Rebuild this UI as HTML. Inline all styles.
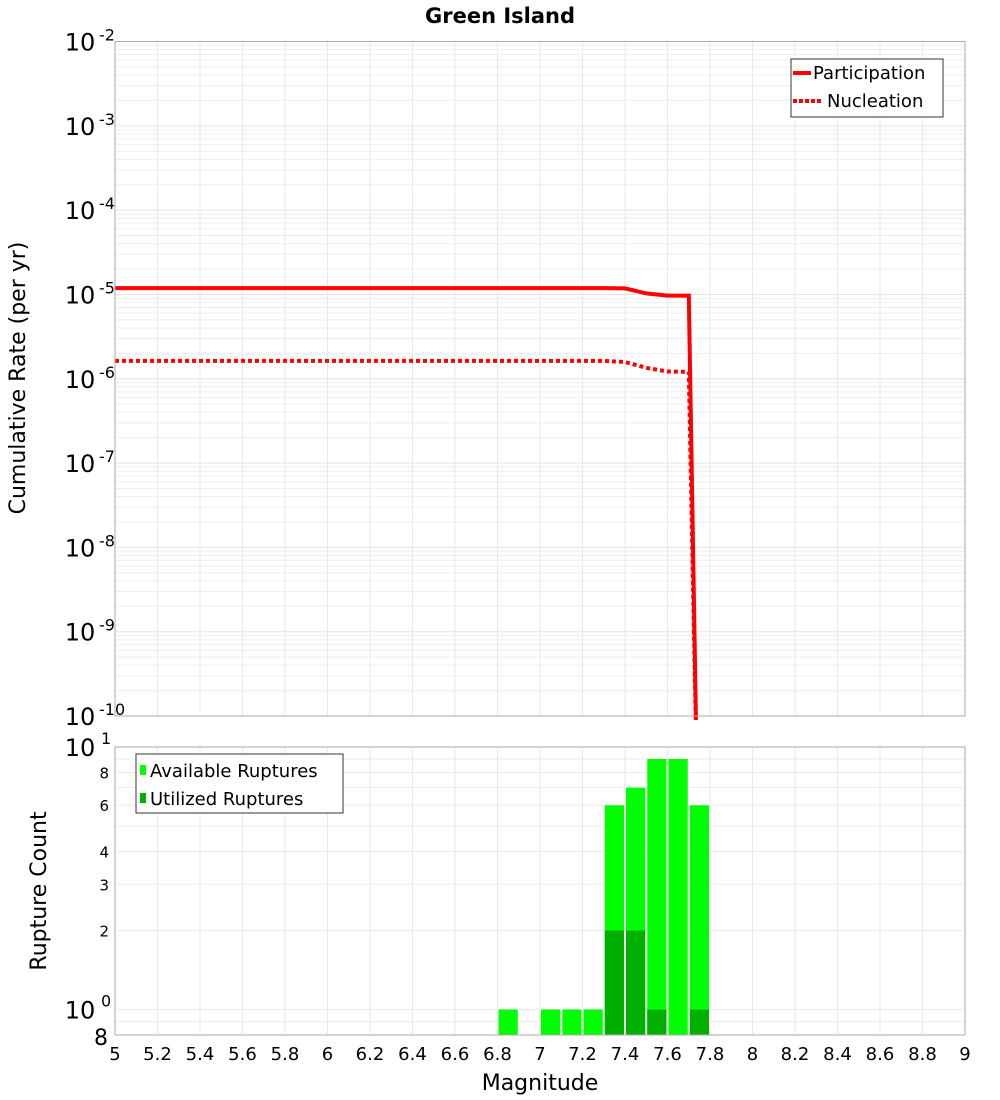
<!DOCTYPE html>
<html><head><meta charset="utf-8"><style>
body{margin:0;background:#fff;}
svg{display:block;font-family:"DejaVu Sans","Liberation Sans",sans-serif;}
</style></head><body>
<svg id="chart" width="1000" height="1100" viewBox="0 0 1000 1100" xmlns="http://www.w3.org/2000/svg">
<text x="500" y="23" text-anchor="middle" font-size="21" font-weight="bold">Green Island</text>
<g id="topPlot"></g>
<g id="botPlot"></g>
<text transform="translate(25,378) rotate(-90)" text-anchor="middle" font-size="22">Cumulative Rate (per yr)</text>
<text transform="translate(46,891) rotate(-90)" text-anchor="middle" font-size="22">Rupture Count</text>
<text x="540" y="1090" text-anchor="middle" font-size="22">Magnitude</text>
</svg>
<script>
// ---- data ----
const partMags  = [5.0,5.1,5.2,5.3,5.4,5.5,5.6,5.7,5.8,5.9,6.0,6.1,6.2,6.3,6.4,6.5,6.6,6.7,6.8,6.9,7.0,7.1,7.2,7.3,7.4,7.5,7.6,7.7,7.74];
const partRates = [1.19e-5,1.19e-5,1.19e-5,1.19e-5,1.19e-5,1.19e-5,1.19e-5,1.19e-5,1.19e-5,1.19e-5,1.19e-5,1.19e-5,1.19e-5,1.19e-5,1.19e-5,1.19e-5,1.19e-5,1.19e-5,1.19e-5,1.19e-5,1.19e-5,1.19e-5,1.19e-5,1.19e-5,1.18e-5,1.03e-5,9.7e-6,9.7e-6,1e-11];
const nuclRates = [1.63e-6,1.63e-6,1.63e-6,1.63e-6,1.63e-6,1.63e-6,1.63e-6,1.63e-6,1.63e-6,1.63e-6,1.63e-6,1.63e-6,1.63e-6,1.63e-6,1.63e-6,1.63e-6,1.63e-6,1.63e-6,1.63e-6,1.63e-6,1.63e-6,1.63e-6,1.63e-6,1.63e-6,1.58e-6,1.35e-6,1.22e-6,1.21e-6,1e-11];
const binCenters = [6.85,7.05,7.15,7.25,7.35,7.45,7.55,7.65,7.75];
const availCounts = [1,1,1,1,6,7,9,9,6];
const usedCounts  = [0,0,0,0,2,2,1,0,1];
const xTicks = [5,5.2,5.4,5.6,5.8,6,6.2,6.4,6.6,6.8,7,7.2,7.4,7.6,7.8,8,8.2,8.4,8.6,8.8,9];
const topExps = [-2,-3,-4,-5,-6,-7,-8,-9,-10];
const botMinorLabels = [2,3,4,6,8];

const NS="http://www.w3.org/2000/svg";
function mk(p,tag,attrs){const e=document.createElementNS(NS,tag);for(const k in attrs)e.setAttribute(k,attrs[k]);p.appendChild(e);return e;}
const X0=115,X1=965;
const xs=m=>X0+(m-5)/(9-5)*(X1-X0);
const T0=41.5,T1=716;
const ty=v=>T0+(-2-Math.log10(v))/8*(T1-T0);
const B0=747,B1=1035;
const by=v=>B0+(1-Math.log10(v))/(1-Math.log10(0.8))*(B1-B0);

const topG=document.getElementById('topPlot'), botG=document.getElementById('botPlot');
// top plot grid
const tg=mk(topG,'g',{});


for(let e=-10;e<-2;e++)for(let k=1;k<10;k++){const y=ty(k*Math.pow(10,e));mk(tg,'line',{x1:X0,x2:X1,y1:y,y2:y,stroke:k==1?'#e4e4e4':'#eeeeee','stroke-width':1});}
xTicks.forEach(t=>{const x=xs(t);mk(tg,'line',{x1:x,x2:x,y1:T0,y2:T1,stroke:'#e8e8e8','stroke-width':1});});
// bottom grid
const bg=mk(botG,'g',{});


[0.8,0.9,1,2,3,4,5,6,7,8,9].forEach(v=>{const y=by(v);mk(bg,'line',{x1:X0,x2:X1,y1:y,y2:y,stroke:'#ebebeb','stroke-width':1});});
xTicks.forEach(t=>{const x=xs(t);mk(bg,'line',{x1:x,x2:x,y1:B0,y2:B1,stroke:'#e8e8e8','stroke-width':1});});

// top curves (clipped)
const cp=mk(topG,'clipPath',{id:'tc'});
mk(cp,'rect',{x:X0,y:T0,width:X1-X0,height:T1-T0+4});
const pp=partMags.map((m,i)=>xs(m).toFixed(1)+','+ty(partRates[i]).toFixed(1)).join(' ');
const np=partMags.map((m,i)=>xs(m).toFixed(1)+','+ty(nuclRates[i]).toFixed(1)).join(' ');
const nl=mk(topG,'polyline',{points:np,fill:'none',stroke:'#ff0000','stroke-width':4,'stroke-dasharray':'4,3','clip-path':'url(#tc)'});


const pl=mk(topG,'polyline',{points:pp,fill:'none',stroke:'#ff0000','stroke-width':4,'clip-path':'url(#tc)'});


const tf=mk(topG,'rect',{x:X0,y:T0,width:X1-X0,height:T1-T0,fill:'none',stroke:'#aaaaaa','stroke-width':1});



// top y labels
topExps.forEach(e=>{const y=ty(Math.pow(10,e));
 const t=mk(topG,'text',{x:80,y:y+9,'text-anchor':'middle','font-size':24});
 
 
 t.textContent='10';
 const s=mk(topG,'text',{x:99,y:y-1,'font-size':16});
 
 
 s.textContent=String(e);
});

// top legend
const lg=mk(topG,'g',{});


mk(lg,'rect',{x:791,y:59,width:152,height:58,fill:'#fff',stroke:'#333','stroke-width':1});
mk(lg,'line',{x1:793,x2:811,y1:73,y2:73,stroke:'#f00','stroke-width':4});
mk(lg,'line',{x1:793,x2:823,y1:101,y2:101,stroke:'#f00','stroke-width':4,'stroke-dasharray':'4,2'});
const l1=mk(lg,'text',{x:813,y:79,'font-size':18});l1.textContent='Participation';


const l2=mk(lg,'text',{x:827,y:107,'font-size':18});l2.textContent='Nucleation';



// bars
const w=xs(0.1)-xs(0);
binCenters.forEach((c,i)=>{
 const x=xs(c)-w/2+1;
 const r=mk(botG,'rect',{x:x,y:by(availCounts[i]),width:w-2,height:B1-by(availCounts[i]),fill:'#00ff00'});
 
 
 if(usedCounts[i]>0){
  const u=mk(botG,'rect',{x:x,y:by(usedCounts[i]),width:w-2,height:B1-by(usedCounts[i]),fill:'#00b000'});
  
  
 }
});
const bf=mk(botG,'rect',{x:X0,y:B0,width:X1-X0,height:B1-B0,fill:'none',stroke:'#aaaaaa','stroke-width':1});



// bottom y labels
[[10,'1'],[1,'0']].forEach(([v,e])=>{const y=by(v);
 const t=mk(botG,'text',{x:80,y:y+9,'text-anchor':'middle','font-size':24});t.textContent='10';
 
 
 const s=mk(botG,'text',{x:101,y:y-3,'font-size':16});s.textContent=e;
 
 
});
botMinorLabels.forEach(v=>{const t=mk(botG,'text',{x:109,y:by(v)+6,'text-anchor':'end','font-size':15});t.textContent=String(v);
 
 });
const b8=mk(botG,'text',{x:108,y:B1+10,'text-anchor':'end','font-size':22});b8.textContent='8';



// bottom legend
const bl=mk(botG,'g',{});


mk(bl,'rect',{x:136,y:754,width:207,height:59,fill:'#fff',stroke:'#333','stroke-width':1});
mk(bl,'rect',{x:140,y:765,width:6,height:10,fill:'#00ff00'});
mk(bl,'rect',{x:140,y:793,width:6,height:10,fill:'#00b000'});
const b1=mk(bl,'text',{x:150,y:777,'font-size':18});b1.textContent='Available Ruptures';


const b2=mk(bl,'text',{x:150,y:805,'font-size':18});b2.textContent='Utilized Ruptures';



// x tick labels
xTicks.forEach(t=>{const e=mk(botG,'text',{x:xs(t),y:1060,'text-anchor':'middle','font-size':18});
 e.textContent=String(t);
 
 });
</script>
</body></html>
